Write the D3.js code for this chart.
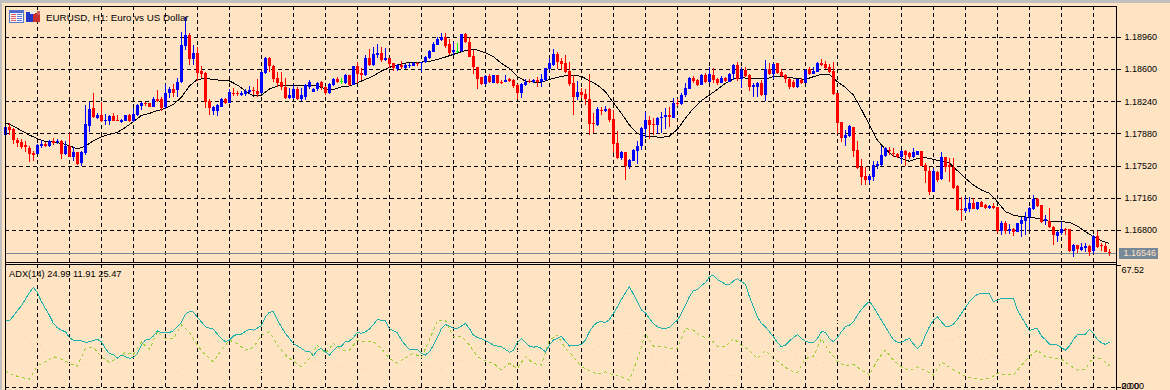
<!DOCTYPE html>
<html>
<head>
<meta charset="utf-8">
<style>
  html, body { margin: 0; padding: 0; background: #ffe4c4; overflow: hidden; }
  svg { display: block; }
  text { font-family: "Liberation Sans", sans-serif; font-size: 9px; fill: #000; }
</style>
<script src="https://d3js.org/d3.v7.min.js"></script>
</head>
<body>
<svg id="chart" width="1170" height="390"></svg>
<script>
// candles, one per hour, oldest first
const opens = [1.17867,1.17953,1.17931,1.17811,1.17793,1.17755,1.17726,1.17662,1.17655,1.17748,1.17767,1.17744,1.17796,1.17785,1.17796,1.17655,1.17744,1.17625,1.17677,1.17550,
1.17666,1.17968,1.18170,1.18061,1.18091,1.18028,1.18028,1.18080,1.18035,1.18017,1.18028,1.18091,1.18024,1.18091,1.18196,1.18225,1.18222,1.18184,1.18270,1.18270,
1.18177,1.18334,1.18386,1.18371,1.18464,1.18867,1.18986,1.18714,1.18789,1.18580,1.18557,1.18252,1.18136,1.18136,1.18184,1.18274,1.18229,1.18341,1.18334,1.18319,
1.18326,1.18345,1.18371,1.18360,1.18334,1.18561,1.18733,1.18643,1.18505,1.18460,1.18401,1.18285,1.18285,1.18378,1.18270,1.18296,1.18408,1.18352,1.18378,1.18464,
1.18401,1.18334,1.18427,1.18498,1.18472,1.18446,1.18535,1.18431,1.18639,1.18557,1.18535,1.18729,1.18651,1.18763,1.18781,1.18707,1.18725,1.18669,1.18602,1.18654,
1.18617,1.18643,1.18643,1.18673,1.18669,1.18684,1.18729,1.18800,1.18878,1.18930,1.18960,1.18886,1.18792,1.18807,1.18807,1.18998,1.18912,1.18751,1.18625,1.18513,
1.18438,1.18531,1.18453,1.18539,1.18464,1.18464,1.18490,1.18483,1.18427,1.18334,1.18427,1.18475,1.18457,1.18483,1.18457,1.18483,1.18606,1.18651,1.18774,1.18695,
1.18669,1.18583,1.18446,1.18289,1.18349,1.18326,1.18270,1.18005,1.17979,1.18147,1.18136,1.18158,1.18043,1.17774,1.17606,1.17673,1.17520,1.17580,1.17692,1.17741,
1.17935,1.18035,1.17987,1.17979,1.18054,1.18065,1.18091,1.18061,1.18229,1.18218,1.18315,1.18382,1.18505,1.18483,1.18431,1.18535,1.18460,1.18539,1.18490,1.18453,
1.18509,1.18464,1.18550,1.18651,1.18490,1.18595,1.18539,1.18408,1.18408,1.18446,1.18315,1.18602,1.18550,1.18669,1.18576,1.18535,1.18498,1.18464,1.18401,1.18483,
1.18453,1.18602,1.18554,1.18576,1.18673,1.18662,1.18632,1.18583,1.18334,1.18009,1.17838,1.17856,1.17957,1.17700,1.17509,1.17409,1.17364,1.17401,1.17524,1.17532,
1.17632,1.17700,1.17670,1.17655,1.17617,1.17692,1.17662,1.17625,1.17644,1.17688,1.17532,1.17465,1.17233,1.17457,1.17371,1.17625,1.17532,1.17513,1.17297,1.17039,
1.17021,1.17036,1.17110,1.17036,1.17121,1.17084,1.17054,1.17073,1.17058,1.16797,1.16886,1.16797,1.16815,1.16786,1.16871,1.16909,1.16946,1.17043,1.17155,1.17080,
1.16901,1.16909,1.16838,1.16737,1.16774,1.16812,1.16812,1.16566,1.16633,1.16580,1.16607,1.16625,1.16569,1.16737,1.16633,1.16625,1.16562];
const highs = [1.17968,1.18005,1.17942,1.17830,1.17819,1.17804,1.17748,1.17692,1.17767,1.17811,1.17793,1.17811,1.17830,1.17819,1.17811,1.17796,1.17886,1.17737,1.17681,1.17692,
1.18203,1.18240,1.18334,1.18117,1.18240,1.18102,1.18091,1.18110,1.18091,1.18046,1.18087,1.18099,1.18166,1.18211,1.18233,1.18240,1.18229,1.18289,1.18371,1.18289,
1.18438,1.18401,1.18438,1.18501,1.19016,1.19192,1.19005,1.18874,1.18856,1.18643,1.18576,1.18270,1.18192,1.18214,1.18285,1.18285,1.18378,1.18393,1.18356,1.18363,
1.18378,1.18416,1.18401,1.18490,1.18580,1.18744,1.18744,1.18651,1.18572,1.18572,1.18501,1.18390,1.18427,1.18401,1.18390,1.18438,1.18483,1.18390,1.18464,1.18472,
1.18416,1.18446,1.18505,1.18513,1.18505,1.18550,1.18542,1.18639,1.18688,1.18613,1.18763,1.18830,1.18856,1.18886,1.18856,1.18837,1.18725,1.18677,1.18662,1.18692,
1.18658,1.18669,1.18684,1.18688,1.18688,1.18755,1.18819,1.18912,1.18960,1.19005,1.19005,1.18938,1.18912,1.18901,1.19001,1.19009,1.18960,1.18819,1.18632,1.18520,
1.18535,1.18550,1.18542,1.18539,1.18483,1.18539,1.18501,1.18490,1.18434,1.18446,1.18490,1.18490,1.18494,1.18513,1.18550,1.18617,1.18725,1.18826,1.18800,1.18725,
1.18763,1.18688,1.18539,1.18472,1.18390,1.18378,1.18550,1.18117,1.18177,1.18184,1.18192,1.18166,1.18147,1.17912,1.17692,1.17681,1.17595,1.17707,1.17804,1.17961,
1.18128,1.18080,1.18054,1.18072,1.18128,1.18166,1.18177,1.18281,1.18266,1.18341,1.18446,1.18513,1.18528,1.18490,1.18546,1.18565,1.18625,1.18621,1.18501,1.18528,
1.18520,1.18557,1.18662,1.18688,1.18632,1.18625,1.18546,1.18453,1.18460,1.18483,1.18707,1.18669,1.18669,1.18677,1.18602,1.18546,1.18505,1.18483,1.18498,1.18501,
1.18602,1.18625,1.18632,1.18681,1.18722,1.18699,1.18662,1.18684,1.18341,1.18016,1.17923,1.17979,1.17961,1.17800,1.17595,1.17513,1.17423,1.17576,1.17580,1.17744,
1.17737,1.17737,1.17718,1.17662,1.17700,1.17700,1.17673,1.17718,1.17692,1.17692,1.17550,1.17513,1.17494,1.17465,1.17681,1.17625,1.17606,1.17606,1.17304,1.17170,
1.17170,1.17177,1.17159,1.17121,1.17132,1.17095,1.17084,1.17103,1.17065,1.16909,1.16909,1.16871,1.16823,1.16886,1.16954,1.17010,1.17058,1.17196,1.17166,1.17088,
1.16972,1.17047,1.16845,1.16793,1.16897,1.16823,1.16819,1.16648,1.16640,1.16655,1.16655,1.16633,1.16745,1.16797,1.16662,1.16655,1.16588];
const lows = [1.17867,1.17867,1.17767,1.17729,1.17714,1.17681,1.17569,1.17580,1.17651,1.17718,1.17729,1.17737,1.17755,1.17767,1.17603,1.17644,1.17617,1.17580,1.17535,1.17524,
1.17644,1.17905,1.18054,1.18043,1.18013,1.17983,1.17983,1.18020,1.18020,1.17998,1.18020,1.18016,1.18009,1.18084,1.18147,1.18192,1.18177,1.18177,1.18240,1.18140,
1.18155,1.18285,1.18296,1.18296,1.18453,1.18819,1.18651,1.18651,1.18472,1.18501,1.18173,1.18091,1.18091,1.18080,1.18177,1.18214,1.18222,1.18304,1.18304,1.18304,
1.18304,1.18322,1.18315,1.18296,1.18326,1.18550,1.18576,1.18464,1.18401,1.18371,1.18270,1.18270,1.18270,1.18259,1.18248,1.18259,1.18386,1.18352,1.18363,1.18371,
1.18315,1.18326,1.18416,1.18446,1.18438,1.18438,1.18416,1.18423,1.18446,1.18483,1.18528,1.18639,1.18639,1.18725,1.18688,1.18699,1.18613,1.18587,1.18587,1.18602,
1.18610,1.18613,1.18639,1.18639,1.18569,1.18669,1.18722,1.18792,1.18871,1.18919,1.18837,1.18763,1.18763,1.18789,1.18800,1.18893,1.18736,1.18550,1.18382,1.18431,
1.18431,1.18446,1.18446,1.18438,1.18438,1.18457,1.18457,1.18390,1.18274,1.18278,1.18416,1.18446,1.18446,1.18408,1.18401,1.18472,1.18595,1.18643,1.18602,1.18595,
1.18557,1.18419,1.18091,1.18259,1.18278,1.18203,1.17867,1.17886,1.17972,1.18091,1.18121,1.18016,1.17662,1.17595,1.17588,1.17364,1.17483,1.17573,1.17543,1.17700,
1.17830,1.17823,1.17867,1.17879,1.17886,1.17935,1.17961,1.18054,1.18192,1.18203,1.18296,1.18378,1.18446,1.18416,1.18423,1.18446,1.18453,1.18446,1.18427,1.18446,
1.18457,1.18457,1.18483,1.18475,1.18393,1.18513,1.18360,1.18296,1.18296,1.18307,1.18252,1.18539,1.18490,1.18546,1.18520,1.18446,1.18386,1.18390,1.18393,1.18434,
1.18446,1.18539,1.18546,1.18569,1.18643,1.18602,1.18557,1.18311,1.17879,1.17793,1.17748,1.17849,1.17625,1.17491,1.17312,1.17312,1.17334,1.17356,1.17491,1.17520,
1.17625,1.17644,1.17625,1.17606,1.17543,1.17520,1.17595,1.17606,1.17640,1.17520,1.17334,1.17196,1.17226,1.17345,1.17364,1.17457,1.17345,1.17259,1.17021,1.16909,
1.16991,1.17010,1.17036,1.17028,1.17058,1.17039,1.17043,1.17043,1.16774,1.16752,1.16760,1.16756,1.16737,1.16782,1.16722,1.16748,1.16804,1.17028,1.17065,1.16886,
1.16860,1.16827,1.16640,1.16674,1.16748,1.16748,1.16562,1.16506,1.16551,1.16573,1.16562,1.16513,1.16536,1.16603,1.16573,1.16554,1.16513];
const closes = [1.17961,1.17923,1.17811,1.17774,1.17729,1.17729,1.17655,1.17647,1.17755,1.17767,1.17744,1.17796,1.17781,1.17800,1.17655,1.17748,1.17625,1.17677,1.17543,1.17681,
1.17987,1.18155,1.18065,1.18091,1.18028,1.18035,1.18080,1.18028,1.18028,1.18035,1.18087,1.18028,1.18102,1.18203,1.18225,1.18214,1.18184,1.18270,1.18248,1.18166,
1.18334,1.18386,1.18334,1.18460,1.18874,1.18986,1.18718,1.18789,1.18565,1.18550,1.18240,1.18170,1.18184,1.18207,1.18274,1.18222,1.18352,1.18326,1.18326,1.18337,
1.18356,1.18367,1.18356,1.18322,1.18572,1.18733,1.18639,1.18494,1.18446,1.18401,1.18278,1.18315,1.18378,1.18274,1.18315,1.18427,1.18460,1.18378,1.18446,1.18401,
1.18341,1.18438,1.18498,1.18460,1.18472,1.18535,1.18423,1.18639,1.18550,1.18535,1.18729,1.18651,1.18774,1.18781,1.18707,1.18729,1.18662,1.18613,1.18654,1.18632,
1.18651,1.18647,1.18673,1.18666,1.18680,1.18744,1.18811,1.18889,1.18942,1.18960,1.18863,1.18789,1.18815,1.18807,1.18998,1.18904,1.18744,1.18632,1.18494,1.18438,
1.18528,1.18457,1.18539,1.18446,1.18457,1.18483,1.18475,1.18416,1.18341,1.18438,1.18464,1.18457,1.18483,1.18457,1.18490,1.18613,1.18669,1.18774,1.18688,1.18662,
1.18576,1.18438,1.18296,1.18349,1.18315,1.18270,1.17990,1.17990,1.18162,1.18136,1.18158,1.18035,1.17767,1.17606,1.17681,1.17520,1.17588,1.17700,1.17741,1.17949,
1.18035,1.17979,1.17979,1.18058,1.18072,1.18091,1.18069,1.18225,1.18222,1.18315,1.18390,1.18505,1.18468,1.18427,1.18535,1.18464,1.18546,1.18483,1.18446,1.18505,
1.18472,1.18550,1.18654,1.18490,1.18595,1.18528,1.18408,1.18431,1.18446,1.18315,1.18602,1.18550,1.18662,1.18565,1.18528,1.18494,1.18401,1.18401,1.18490,1.18446,
1.18595,1.18550,1.18584,1.18673,1.18651,1.18617,1.18576,1.18326,1.18005,1.17838,1.17867,1.17972,1.17692,1.17498,1.17401,1.17364,1.17412,1.17532,1.17543,1.17644,
1.17718,1.17692,1.17655,1.17625,1.17692,1.17644,1.17617,1.17681,1.17685,1.17524,1.17468,1.17233,1.17468,1.17364,1.17625,1.17513,1.17506,1.17278,1.17028,1.17032,
1.17054,1.17103,1.17039,1.17118,1.17065,1.17050,1.17073,1.17047,1.16793,1.16879,1.16797,1.16812,1.16782,1.16879,1.16916,1.16946,1.17047,1.17155,1.17073,1.16890,
1.16924,1.16834,1.16745,1.16782,1.16812,1.16804,1.16569,1.16636,1.16592,1.16618,1.16629,1.16562,1.16737,1.16610,1.16625,1.16562,1.16546];

// moving average, read every 2nd candle
const maEvery = 2;
const maValues = [1.18005,1.17968,1.17916,1.17867,1.17826,1.17796,1.17789,1.17774,1.17748,1.17711,1.17744,1.17804,1.17849,1.17875,1.17897,1.17953,1.18016,1.18087,1.18110,1.18140,
1.18166,1.18211,1.18289,1.18416,1.18490,1.18501,1.18490,1.18479,1.18472,1.18427,1.18360,1.18304,1.18315,1.18382,1.18416,1.18423,1.18423,1.18423,1.18423,1.18416,
1.18382,1.18375,1.18408,1.18416,1.18453,1.18490,1.18528,1.18583,1.18625,1.18651,1.18673,1.18677,1.18684,1.18692,1.18714,1.18740,1.18770,1.18800,1.18822,1.18819,
1.18789,1.18744,1.18669,1.18613,1.18520,1.18472,1.18460,1.18457,1.18490,1.18513,1.18531,1.18535,1.18524,1.18475,1.18427,1.18352,1.18229,1.18110,1.17979,1.17886,
1.17856,1.17849,1.17841,1.17856,1.17931,1.18054,1.18166,1.18252,1.18315,1.18378,1.18446,1.18494,1.18509,1.18501,1.18498,1.18494,1.18520,1.18524,1.18513,1.18498,
1.18490,1.18520,1.18546,1.18546,1.18464,1.18401,1.18315,1.18155,1.17979,1.17808,1.17707,1.17632,1.17606,1.17573,1.17606,1.17614,1.17595,1.17576,1.17558,1.17468,
1.17382,1.17308,1.17252,1.17215,1.17121,1.17010,1.16972,1.16954,1.16946,1.16935,1.16909,1.16898,1.16898,1.16890,1.16849,1.16786,1.16730,1.16685,1.16655];

// ADX(14) main line, one value per candle
const adxValues = [36.9,36.9,39.5,42.5,45.2,48.9,52.4,55.3,52.5,47.5,43.7,40.0,35.4,33.0,31.7,30.8,27.6,26.0,26.0,25.8,
25.0,25.2,26.0,26.7,25.2,21.6,18.8,18.1,16.2,17.9,17.0,16.2,16.4,18.8,23.4,26.2,26.5,28.4,31.3,30.4,
30.4,30.4,31.3,33.6,36.0,40.4,42.0,41.7,38.7,36.3,33.6,32.8,32.3,29.5,27.1,25.2,26.2,28.4,29.5,29.5,
31.0,32.3,31.7,32.8,34.1,39.1,41.6,42.0,37.2,33.6,29.9,27.1,24.3,22.9,21.6,20.1,19.9,17.5,20.6,21.6,
19.7,17.9,20.3,22.5,22.9,25.2,25.6,27.6,30.4,29.9,30.8,32.3,34.8,37.6,37.2,37.1,32.6,31.3,30.2,26.2,
23.4,21.0,21.0,21.0,18.8,17.9,19.7,23.4,27.6,32.6,34.8,33.9,32.8,32.8,33.9,35.4,32.6,28.9,27.6,26.9,
25.8,24.7,23.4,22.9,22.5,21.0,19.5,20.6,24.9,27.1,24.9,22.9,22.3,22.5,21.6,19.7,23.4,26.2,27.1,28.2,
25.6,22.9,23.0,23.2,23.8,26.2,30.8,34.1,36.0,36.5,35.8,37.6,40.9,44.6,48.7,52.4,55.7,51.6,47.4,42.8,
41.3,38.2,35.4,33.6,32.8,32.6,33.2,35.4,37.2,40.9,45.5,50.2,53.5,54.2,56.4,57.9,61.2,62.1,59.7,58.5,
57.2,57.0,58.8,60.1,58.5,57.2,50.2,44.6,39.1,35.4,33.6,30.8,28.0,24.9,22.5,23.4,25.6,27.6,29.3,27.1,
25.6,24.9,24.9,27.1,30.8,30.6,27.1,25.2,27.6,30.8,33.6,34.5,36.3,40.0,43.1,45.5,47.6,44.6,40.9,37.2,
33.6,29.9,26.5,24.9,25.0,26.2,27.1,24.0,21.6,23.4,28.9,33.6,37.2,39.1,36.3,33.9,33.9,35.0,37.6,40.9,
44.3,47.4,49.8,51.6,51.8,51.8,52.0,47.4,48.3,49.2,49.2,49.0,49.2,42.8,39.1,35.4,31.3,32.3,32.6,28.4,
26.5,24.0,23.8,23.4,22.1,20.6,22.9,26.5,29.1,29.5,29.5,32.1,29.9,26.5,24.7,23.8,24.99];

// +DI, read every 2nd candle
const plusEvery = 2;
const plusDi = [9.0,6.8,5.5,4.6,11.8,14.2,17.0,15.7,13.3,11.8,21.6,22.1,17.0,13.8,16.0,19.4,18.2,25.2,21.0,30.8,
27.1,27.1,34.5,30.8,23.4,17.9,14.2,20.6,26.2,24.3,20.6,22.1,28.9,30.8,23.4,17.9,14.5,11.4,16.0,23.4,
18.8,24.3,20.6,20.6,26.2,25.2,25.2,21.6,16.0,13.3,16.4,18.8,16.6,26.2,37.2,37.2,28.0,28.4,23.4,17.0,
14.7,13.3,9.6,13.3,10.5,17.0,13.3,12.3,26.2,28.9,21.6,17.0,11.4,9.2,7.4,8.6,6.8,5.9,4.0,15.5,
29.9,22.9,22.9,21.6,21.6,32.6,31.7,28.0,27.6,22.5,22.5,27.1,23.4,20.6,16.0,20.3,16.0,12.9,9.6,8.1,
16.0,17.0,27.1,19.7,14.5,11.8,12.9,9.6,6.8,15.1,20.6,15.1,11.4,9.2,11.4,9.2,6.8,14.2,11.0,8.6,
6.2,4.9,4.4,4.9,7.7,7.2,6.8,12.3,17.0,20.6,17.0,16.4,15.7,12.3,9.6,10.0,17.0,15.7,11.91];

// -DI, faint on this background, read every 4th candle
const minusEvery = 4;
const minusDi = [15.1,23.4,25.2,16.0,13.3,12.3,16.0,13.3,17.9,15.1,13.3,6.8,18.8,27.1,21.6,15.1,8.6,15.1,20.6,15.1,
12.9,11.4,11.0,8.6,18.8,15.1,13.3,7.7,15.1,15.1,26.2,22.5,20.6,23.4,13.3,17.0,17.0,22.5,26.2,30.8,
22.5,13.3,7.7,5.9,4.0,6.8,6.8,17.0,17.9,20.6,15.1,10.5,36.3,35.4,33.6,17.9,15.1,19.7,24.3,26.2,
28.9,15.1,18.8,17.0,9.6,21.6,25.2,23.4,26.2,25.47];

const priceTicks = [1.18960, 1.18600, 1.18240, 1.17880, 1.17520, 1.17160, 1.16800];
const adxTicks = [67.52, 0];
const lastPrice = 1.16546;
const chartTitle = "EURUSD, H1:  Euro vs US Dollar";
const adxTitle = "ADX(14) 24.99 11.91 25.47";

const svg = d3.select("#chart");
const px = v => Math.floor(v) + 0.5;

const left = 5, right = 1116.5, mainTop = 6, mainBottom = 262, subTop = 264, subBottom = 387;

const x = d3.scaleLinear().domain([0, opens.length - 1]).range([5.4, 1109.4]);
const y = d3.scaleLinear().domain([1.168, 1.1896]).range([230.4, 37.4]);
const yAdx = d3.scaleLinear().domain([0, 67.52]).range([387.4, 265.4]);

// window frame strip
svg.append("rect").attr("width", 1170).attr("height", 3).attr("fill", "#c0c0c0");
svg.append("rect").attr("width", 2).attr("height", 390).attr("fill", "#c0c0c0");

// grid
const gridIdx = d3.range(8, opens.length, 8);
const gridDash = "4,3";
const grid = svg.append("g").attr("stroke", "#000").attr("stroke-dasharray", gridDash).attr("shape-rendering", "crispEdges");
grid.selectAll(".vmain").data(gridIdx).join("line").attr("class", "vmain")
  .attr("x1", d => px(x(d))).attr("x2", d => px(x(d))).attr("y1", mainTop).attr("y2", mainBottom);
grid.selectAll(".vsub").data(gridIdx).join("line").attr("class", "vsub")
  .attr("x1", d => px(x(d))).attr("x2", d => px(x(d))).attr("y1", subTop).attr("y2", subBottom);
grid.selectAll(".hmain").data(priceTicks).join("line").attr("class", "hmain")
  .attr("x1", left).attr("x2", right).attr("y1", d => px(y(d))).attr("y2", d => px(y(d)));
grid.append("line").attr("x1", left).attr("x2", right).attr("y1", px(yAdx(0))).attr("y2", px(yAdx(0)));

// bid line
svg.append("line").attr("x1", left).attr("x2", right).attr("y1", px(y(lastPrice))).attr("y2", px(y(lastPrice)))
  .attr("stroke", "#778899").attr("shape-rendering", "crispEdges");

// moving average
const maLine = d3.line().x((d, i) => x(i * maEvery)).y(d => y(d));
svg.append("path").attr("d", maLine(maValues)).attr("fill", "none").attr("stroke", "#000").attr("shape-rendering", "crispEdges");

// candles
const candleColor = i => closes[i] > opens[i] ? "#0000ff" : closes[i] < opens[i] ? "#ff0000" : "#00ff00";
const candles = svg.append("g").attr("shape-rendering", "crispEdges");
candles.selectAll("line").data(opens).join("line")
  .attr("x1", (d, i) => px(x(i))).attr("x2", (d, i) => px(x(i)))
  .attr("y1", (d, i) => y(highs[i])).attr("y2", (d, i) => y(lows[i]))
  .attr("stroke", (d, i) => candleColor(i));
candles.selectAll("rect").data(opens).join("rect")
  .attr("x", (d, i) => Math.floor(x(i)) - 1).attr("width", 3)
  .attr("y", (d, i) => y(Math.max(opens[i], closes[i])))
  .attr("height", (d, i) => Math.max(1, Math.abs(y(opens[i]) - y(closes[i]))))
  .attr("fill", (d, i) => candleColor(i));

// ADX lines
const subLine = step => d3.line().x((d, i) => x(i * step)).y(d => yAdx(d));
const subLines = svg.append("g").attr("fill", "none").attr("shape-rendering", "crispEdges");
subLines.append("path").attr("d", subLine(minusEvery)(minusDi))
  .attr("stroke", "#f5deb3").attr("stroke-dasharray", "3,3");
subLines.append("path").attr("d", subLine(plusEvery)(plusDi))
  .attr("stroke", "#9acd32").attr("stroke-dasharray", "3,3");
subLines.append("path").attr("d", subLine(1)(adxValues))
  .attr("stroke", "#20b2aa");

// frames
const frame = svg.append("g").attr("stroke", "#000").attr("shape-rendering", "crispEdges");
frame.append("line").attr("x1", left).attr("x2", right).attr("y1", mainTop + 0.5).attr("y2", mainTop + 0.5);
frame.append("line").attr("x1", left).attr("x2", right).attr("y1", mainBottom + 0.5).attr("y2", mainBottom + 0.5);
frame.append("line").attr("x1", left).attr("x2", right).attr("y1", subTop + 0.5).attr("y2", subTop + 0.5);
frame.append("line").attr("x1", left + 0.5).attr("x2", left + 0.5).attr("y1", mainTop).attr("y2", 390);

// axes
const priceAxis = d3.axisRight(y).tickValues(priceTicks).tickFormat(d3.format(".5f")).tickSize(4).tickPadding(4).offset(0);
const gPrice = svg.append("g").attr("transform", `translate(${right},0)`).call(priceAxis);
const adxAxis = d3.axisRight(yAdx).tickValues(adxTicks).tickFormat(d3.format(".2f")).tickSize(4).tickPadding(1).offset(0);
const gAdx = svg.append("g").attr("transform", `translate(${right},0)`).call(adxAxis);
[gPrice, gAdx].forEach(g => {
  g.attr("font-family", null).attr("font-size", null).attr("shape-rendering", "crispEdges");
  g.select(".domain").remove();
  g.selectAll("line").attr("stroke", "#000");
  g.selectAll("text").attr("fill", "#000");
});
// MT4 hangs these two labels off their ticks instead of centring them
gAdx.selectAll("text").attr("y", d => d > 0 ? 5 : -1);
// second label printed on top of 0.00 in the source
svg.append("text").attr("x", 1121.5).attr("y", yAdx(0) - 1).attr("dy", "0.32em").text("20.00");
frame.append("line").attr("x1", right).attr("x2", right).attr("y1", mainTop).attr("y2", 390);

// current price tag
svg.append("rect").attr("x", 1119).attr("y", px(y(lastPrice)) - 5.5).attr("width", 39).attr("height", 11).attr("fill", "#778899");
svg.append("text").attr("x", 1123.5).attr("y", y(lastPrice)).attr("dy", "0.36em").style("fill", "#ffe4c4").text(d3.format(".5f")(lastPrice));

// titles
svg.append("text").attr("x", 46).attr("y", 21).style("font-size", "9.8px").text(chartTitle);
svg.append("text").attr("x", 9).attr("y", 277).style("font-size", "9.3px").text(adxTitle);

// toolbar icons
const icons = svg.append("g").attr("shape-rendering", "crispEdges");
icons.append("rect").attr("x", 9.5).attr("y", 10.5).attr("width", 14).attr("height", 12).attr("fill", "#f4f4f8").attr("stroke", "#5a78c8");
icons.append("rect").attr("x", 10).attr("y", 11).attr("width", 13).attr("height", 2).attr("fill", "#4a6ad0");
d3.range(14, 22, 2).forEach(v => {
  icons.append("rect").attr("x", 11).attr("y", v).attr("width", 5).attr("height", 1).attr("fill", "#e06060");
  icons.append("rect").attr("x", 17).attr("y", v).attr("width", 5).attr("height", 1).attr("fill", "#6080d8");
});
icons.append("rect").attr("x", 26).attr("y", 12).attr("width", 7).attr("height", 10).attr("fill", "#2038c8");
icons.append("rect").attr("x", 33).attr("y", 13).attr("width", 7).attr("height", 9).attr("fill", "#c83030");
icons.append("rect").attr("x", 30).attr("y", 11).attr("width", 5).attr("height", 3).attr("fill", "#e8e8e8");
icons.append("rect").attr("x", 37).attr("y", 11).attr("width", 3).attr("height", 4).attr("fill", "#d06060");
</script>
</body>
</html>
